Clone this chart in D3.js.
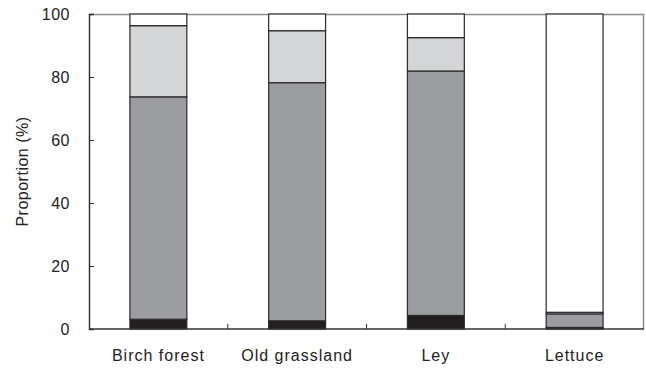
<!DOCTYPE html>
<html>
<head>
<meta charset="utf-8">
<script src="https://d3js.org/d3.v7.min.js"></script>
<style>
  body { margin: 0; background: #fff; }
  text { font-family: "Liberation Sans", Arial, sans-serif; fill: #222; }
</style>
</head>
<body>
<svg id="frame"></svg>
<script>
  // data (percent of total, bottom to top)
  var categories = ["Birch forest", "Old grassland", "Ley", "Lettuce"];
  var blackPart = [3.1, 2.6, 4.3, 0.5];
  var darkPart = [70.6, 75.6, 77.6, 4.3];
  var lightPart = [22.6, 16.5, 10.6, 0.5];
  var whitePart = [3.7, 5.3, 7.5, 94.7];
  var yTicks = [0, 20, 40, 60, 80, 100];

  var width = 646, height = 371;
  var margin = {top: 14, right: 2, bottom: 42, left: 89};
  var chartWidth = width - margin.left - margin.right;
  var chartHeight = height - margin.top - margin.bottom;

  var svg = d3.select('#frame')
    .attr('width', width)
    .attr('height', height);

  var rows = categories.map(function(c, i) {
    return {cat: c, a: blackPart[i], b: darkPart[i], c: lightPart[i], d: whitePart[i]};
  });
  var keys = ['a', 'b', 'c', 'd'];
  var fills = {a: '#231f20', b: '#9c9da1', c: '#d4d5d7', d: '#ffffff'};
  var series = d3.stack().keys(keys)(rows);

  var x = d3.scaleBand()
    .domain(categories)
    .range([0, chartWidth])
    .paddingInner(0.59)
    .paddingOuter(0.295);

  var y = d3.scaleLinear()
    .domain([0, 100])
    .range([chartHeight, 0]);

  var g = svg.append('g')
    .attr('transform', 'translate(' + margin.left + ',' + margin.top + ')');

  // frame top and right (light grey)
  g.append('path')
    .attr('d', 'M0,0.5H' + (chartWidth - 0.5) + 'V' + chartHeight)
    .attr('fill', 'none')
    .attr('stroke', '#8a8a8a')
    .attr('stroke-width', 1.5);

  // bars
  g.selectAll('g.layer')
    .data(series)
    .enter().append('g')
    .attr('class', 'layer')
    .attr('fill', function(d) { return fills[d.key]; })
    .selectAll('rect')
    .data(function(d) { return d; })
    .enter().append('rect')
    .attr('x', function(d) { return x(d.data.cat); })
    .attr('y', function(d) { return y(d[1]); })
    .attr('width', x.bandwidth())
    .attr('height', function(d) { return y(d[0]) - y(d[1]); })
    .attr('stroke', '#2a2a2a')
    .attr('stroke-width', 1.2);

  // y axis, ticks inward
  var yAxis = g.append('g')
    .call(d3.axisRight(y).tickValues(yTicks).tickSize(5).tickFormat(''));
  yAxis.select('.domain').attr('stroke', '#333').attr('stroke-width', 1.5);
  yAxis.selectAll('line').attr('stroke', '#333');

  g.selectAll('text.ylab')
    .data(yTicks)
    .enter().append('text')
    .attr('class', 'ylab')
    .attr('x', -19)
    .attr('y', function(d) { return y(d); })
    .attr('dy', '0.35em')
    .attr('text-anchor', 'end')
    .style('font-size', '16px')
    .style('letter-spacing', '0.5px')
    .text(function(d) { return d; });

  // x axis line and separator ticks between categories
  g.append('line')
    .attr('x1', 0).attr('x2', chartWidth)
    .attr('y1', chartHeight).attr('y2', chartHeight)
    .attr('stroke', '#333').attr('stroke-width', 1.5);

  var step = x.step();
  g.selectAll('line.sep')
    .data(categories.slice(1))
    .enter().append('line')
    .attr('class', 'sep')
    .attr('x1', function(d) { return x(d) - x.bandwidth() * 0 - (step - x.bandwidth()) / 2; })
    .attr('x2', function(d) { return x(d) - (step - x.bandwidth()) / 2; })
    .attr('y1', chartHeight)
    .attr('y2', chartHeight - 5)
    .attr('stroke', '#333');

  g.selectAll('text.xlab')
    .data(categories)
    .enter().append('text')
    .attr('class', 'xlab')
    .attr('x', function(d) { return x(d) + x.bandwidth() / 2; })
    .attr('y', chartHeight + 32)
    .attr('text-anchor', 'middle')
    .style('font-size', '16px')
    .style('letter-spacing', '1px')
    .text(function(d) { return d; });

  svg.append('text')
    .attr('transform', 'translate(28,' + (margin.top + chartHeight / 2) + ') rotate(-90)')
    .attr('text-anchor', 'middle')
    .style('font-size', '16px')
    .style('letter-spacing', '0.5px')
    .text('Proportion (%)');
</script>
</body>
</html>
